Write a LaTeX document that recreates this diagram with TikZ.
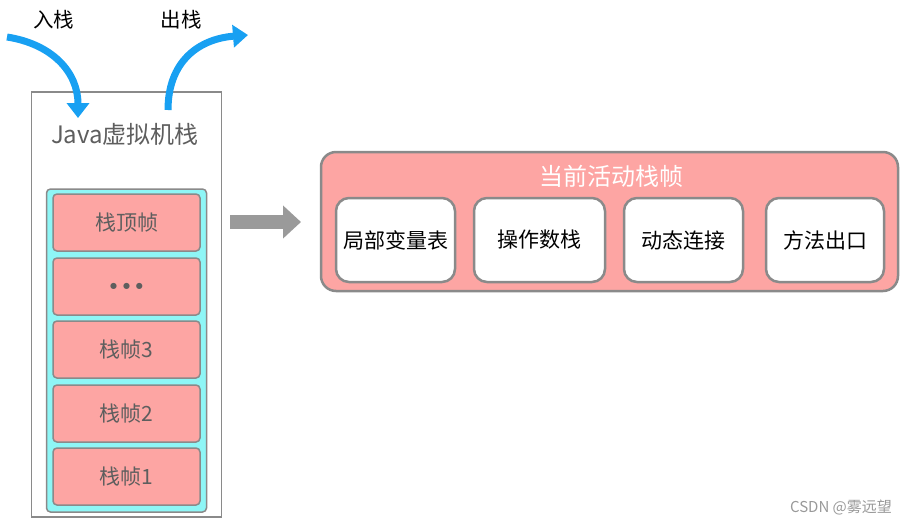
\documentclass[tikz,border=0pt]{standalone}
\usepackage{fontspec}
\setmainfont{Noto Sans CJK SC}
\newfontfamily\dejavu{DejaVu Sans}
\usetikzlibrary{arrows.meta}
\definecolor{pinkfill}{HTML}{FDA5A3}
\definecolor{cyanfill}{HTML}{8EF6F6}
\definecolor{bordergray}{HTML}{8A8A8A}
\definecolor{txtgray}{HTML}{5E5E5E}
\definecolor{blueArrow}{HTML}{18A0F2}
\definecolor{grayArrow}{HTML}{9A9A9A}
\tikzset{
  frame/.style={draw=bordergray, line width=1.5pt, fill=pinkfill, rounded corners=4pt,
    minimum width=147pt, minimum height=57pt, inner sep=0pt, text=txtgray, font=\fontsize{21}{21}\selectfont},
  part/.style={draw=bordergray, line width=2.5pt, fill=white, rounded corners=13pt,
    minimum height=84pt, inner sep=0pt, font=\fontsize{21}{21}\selectfont},
  bluearrow/.style={draw=blueArrow, line width=7pt, -{Triangle[width=22pt,length=15pt]}},
  lbl/.style={font=\fontsize{20.5}{20.5}\selectfont, inner sep=0pt},
}
\begin{document}
\begin{tikzpicture}[x=1pt,y=-1pt]
\useasboundingbox (0,0) rectangle (906,523);
% outer JVM stack box
\node[draw=bordergray, line width=1.2pt, fill=white, minimum width=190pt, minimum height=425pt, inner sep=0pt] (jvm) at (126.5,304.5) {};
\node[text=txtgray, font=\fontsize{24}{24}\selectfont, inner sep=0pt] (jvmt) at (125,134) {Java虚拟机栈};
% cyan container
\node[draw=bordergray, line width=1.5pt, fill=cyanfill, rounded corners=4pt, minimum width=160pt, minimum height=323pt, inner sep=0pt] (cy) at (126.5,350.5) {};
% frames
\node[frame] (f0) at (126.5,222.5) {栈顶帧};
\node[frame] (fd) at (126.5,286.5) {\dejavu\fontsize{8}{8}\selectfont ●\hspace{6pt}●\hspace{6pt}●};
\node[frame] (f3) at (126.5,349.5) {栈帧3};
\node[frame] (f2) at (126.5,413.5) {栈帧2};
\node[frame] (f1) at (126.5,476.5) {栈帧1};
% push/pop labels
\node[lbl] (push) at (54,20) {入栈};
\node[lbl] (pop) at (181,20) {出栈};
\coordinate (pushS) at (7,37);
\coordinate (pushE) at (78,118);
\coordinate (popS) at (168,110);
\coordinate (popE) at (248,35);
\draw[bluearrow] (pushS) .. controls (52,44) and (78,72) .. (pushE);
\draw[bluearrow] (popS) .. controls (168,62) and (198,39) .. (popE);
% gray arrow
\coordinate (gaS) at (230,222);
\coordinate (gaE) at (301,222);
\draw[draw=grayArrow, line width=14pt, -{Triangle[width=32pt,length=18pt]}] (gaS) -- (gaE);
% right box
\node[draw=bordergray, line width=2.5pt, fill=pinkfill, rounded corners=15pt, minimum width=577pt, minimum height=139pt, inner sep=0pt] (cur) at (609.5,221.5) {};
\node[text=white, font=\fontsize{24}{24}\selectfont, inner sep=0pt] (curt) at (611,176) {当前活动栈帧};
\node[part, minimum width=119pt] (p1) at (395.5,240) {局部变量表};
\node[part, minimum width=131pt] (p2) at (539.5,240) {操作数栈};
\node[part, minimum width=119pt] (p3) at (683.5,240) {\raisebox{-3pt}{动态连接}};
\node[part, minimum width=118pt] (p4) at (825,240) {方法出口};
% watermark
\node[text=gray!80, font=\fontsize{15}{15}\selectfont, inner sep=0pt] (wm) at (841,507) {CSDN @雾远望};
\end{tikzpicture}
\end{document}
